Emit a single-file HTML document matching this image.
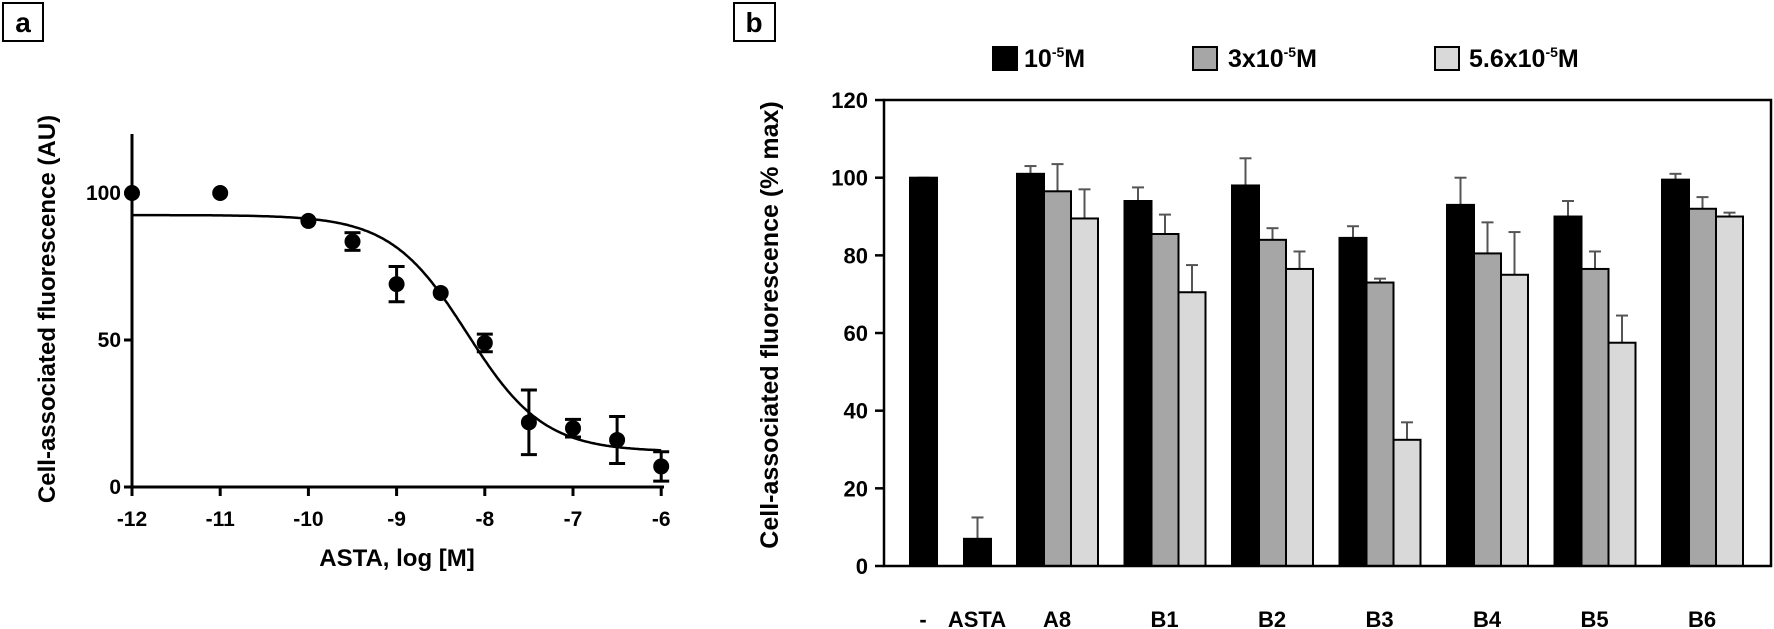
<!DOCTYPE html>
<html><head><meta charset="utf-8"><style>
html,body{margin:0;padding:0;background:#fff;}
svg{display:block;}
text{font-family:"Liberation Sans",Arial,sans-serif;font-weight:bold;}
</style></head><body>
<svg id="s" width="1774" height="629" viewBox="0 0 1774 629" xmlns="http://www.w3.org/2000/svg">
<!-- Panel a -->
<rect x="3" y="3" width="40" height="38" fill="#fff" stroke="#000" stroke-width="2"/>
<text x="23" y="32" font-size="28" text-anchor="middle">a</text>
<g stroke="#000" stroke-width="3" fill="none">
<line x1="132" y1="134" x2="132" y2="489"/>
<line x1="130" y1="487" x2="664" y2="487"/>
<line x1="124" y1="193" x2="132" y2="193"/>
<line x1="124" y1="340" x2="132" y2="340"/>
<line x1="124" y1="487" x2="132" y2="487"/>
</g>
<g id="xt" stroke="#000" stroke-width="3"></g>
<g font-size="21" text-anchor="end">
<text x="121" y="200">100</text><text x="121" y="347">50</text><text x="121" y="494">0</text>
</g>
<g id="xl" font-size="21" text-anchor="middle"></g>
<text x="397" y="566" font-size="24" text-anchor="middle">ASTA, log [M]</text>
<text transform="translate(55,309) rotate(-90)" font-size="24" text-anchor="middle">Cell-associated fluorescence (AU)</text>
<path id="curve" fill="none" stroke="#000" stroke-width="2.5"/>
<g id="pts"></g>

<!-- Panel b -->
<rect x="734" y="3" width="41" height="38" fill="#fff" stroke="#000" stroke-width="2"/>
<text x="754" y="32" font-size="28" text-anchor="middle">b</text>
<rect x="993" y="47" width="24" height="23" fill="#000" stroke="#000" stroke-width="2"/>
<text x="1024" y="67" font-size="25">10<tspan font-size="14" dy="-10">-5</tspan><tspan dy="10">M</tspan></text>
<rect x="1193" y="47" width="24" height="23" fill="#a6a6a6" stroke="#000" stroke-width="2"/>
<text x="1228" y="67" font-size="25">3x10<tspan font-size="14" dy="-10">-5</tspan><tspan dy="10">M</tspan></text>
<rect x="1435" y="47" width="24" height="23" fill="#d9d9d9" stroke="#000" stroke-width="2"/>
<text x="1469" y="67" font-size="25">5.6x10<tspan font-size="14" dy="-10">-5</tspan><tspan dy="10">M</tspan></text>
<g id="bars"></g>
<rect x="884" y="100" width="887" height="466" fill="none" stroke="#000" stroke-width="2.5"/>
<g id="yt" stroke="#000" stroke-width="2.5"></g>
<g id="yl" font-size="22" text-anchor="end"></g>
<text transform="translate(778,325) rotate(-90)" font-size="25" text-anchor="middle">Cell-associated fluorescence (% max)</text>
<g id="gl" font-size="22" text-anchor="middle"></g>
</svg>
<script>
var NS="http://www.w3.org/2000/svg";
function el(p,t,a,txt){var e=document.createElementNS(NS,t);for(var k in a)e.setAttribute(k,a[k]);if(txt!==undefined)e.textContent=txt;document.getElementById(p).appendChild(e);return e;}
function X(v){return 132+(v+12)*88.2;} function Y(v){return 487-v*2.94;}
for(var v=-12;v<=-6;v++){el('xt','line',{x1:X(v),y1:487,x2:X(v),y2:496});el('xl','text',{x:X(v),y:526},String(v));}
var d="";for(var x=-12;x<=-6.0001+0.02;x+=0.02){var y=12+80.5/(1+Math.pow(10,x+8.2));d+=(d?"L":"M")+X(x).toFixed(1)+" "+Y(y).toFixed(1);}
document.getElementById('curve').setAttribute('d',d);
var P=[[-12,100,0],[-11,100,0],[-10,90.5,0],[-9.5,83.5,3],[-9,69,6],[-8.5,66,0],[-8,49,3],[-7.5,22,11],[-7,20,3],[-6.5,16,8],[-6,7,5]];
P.forEach(function(p){var cx=X(p[0]),cy=Y(p[1]);if(p[2]){var t=Y(p[1]+p[2]),b=Y(p[1]-p[2]);
el('pts','line',{x1:cx,y1:t,x2:cx,y2:b,stroke:'#000','stroke-width':3});
el('pts','line',{x1:cx-8,y1:t,x2:cx+8,y2:t,stroke:'#000','stroke-width':3});
el('pts','line',{x1:cx-8,y1:b,x2:cx+8,y2:b,stroke:'#000','stroke-width':3});}
el('pts','circle',{cx:cx,cy:cy,r:8,fill:'#000'});});
function YB(v){return 566-v*3.883;}
for(var v=0;v<=120;v+=20){el('yt','line',{x1:875,y1:YB(v),x2:884,y2:YB(v)});el('yl','text',{x:868,y:YB(v)+8},String(v));}
var cols=['#000','#a6a6a6','#d9d9d9'];
function bar(x,v,e,c){var w=27;
el('bars','line',{x1:x+w/2,y1:YB(v),x2:x+w/2,y2:YB(e),stroke:'#555','stroke-width':2});
el('bars','line',{x1:x+w/2-6,y1:YB(e),x2:x+w/2+6,y2:YB(e),stroke:'#555','stroke-width':2});
el('bars','rect',{x:x,y:YB(v),width:w,height:YB(0)-YB(v),fill:cols[c],stroke:'#000','stroke-width':2});}
bar(910,100,100,0);bar(964,7,12.5,0);
var G=[[101,103,96.5,103.5,89.5,97],[94,97.5,85.5,90.5,70.5,77.5],[98,105,84,87,76.5,81],[84.5,87.5,73,74,32.5,37],[93,100,80.5,88.5,75,86],[90,94,76.5,81,57.5,64.5],[99.5,101,92,95,90,91]];
G.forEach(function(g,i){var x0=1017+i*107.5;for(var j=0;j<3;j++)bar(x0+j*27,g[2*j],g[2*j+1],j);});
var L=[['-',923],['ASTA',977]];var N=['A8','B1','B2','B3','B4','B5','B6'];
N.forEach(function(n,i){L.push([n,1057+i*107.5]);});
L.forEach(function(l){el('gl','text',{x:l[1],y:627},l[0]);});
</script>
</body></html>
